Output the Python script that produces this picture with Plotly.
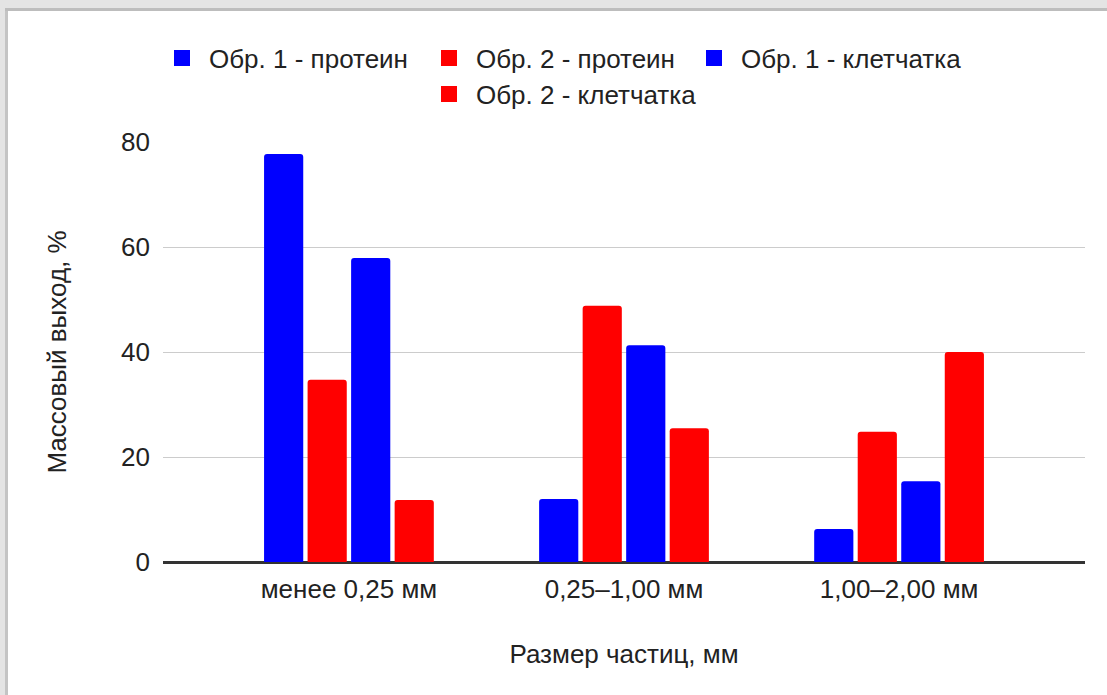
import plotly.graph_objects as go

categories = ["менее 0,25 мм", "0,25–1,00 мм", "1,00–2,00 мм"]
series_names = ["Обр. 1 - протеин", "Обр. 2 - протеин", "Обр. 1 - клетчатка", "Обр. 2 - клетчатка"]
obr1_protein = [77.7, 12.0, 6.3]
obr2_protein = [34.7, 48.8, 24.8]
obr1_fiber = [57.9, 41.3, 15.4]
obr2_fiber = [11.8, 25.5, 40.0]
series_values = [obr1_protein, obr2_protein, obr1_fiber, obr2_fiber]
series_colors = ["#0000ff", "#ff0000", "#0000ff", "#ff0000"]
y_ticks = [0, 20, 40, 60, 80]
y_title = "Массовый выход, %"
x_title = "Размер частиц, мм"

W, H = 1107, 695
ML, MR, MT, MB = 163, 22, 142, 133
PW, PH = W - ML - MR, H - MT - MB


def px(xp):
    return (xp - ML) / PW


def py(yp):
    return (H - MB - yp) / PH


FONT = "Arial, 'Liberation Sans', sans-serif"
FS = 26
TXT = "#222222"

fig = go.Figure()
legend_ids = ["legend", "legend2", "legend3", "legend4"]
for name, vals, col in zip(series_names, series_values, series_colors):
    fig.add_trace(go.Bar(
        x=categories, y=vals, name=name, marker=dict(color=col, cornerradius=3, line=dict(width=0)),
        showlegend=False, legendgroup=name,
    ))
for name, col, lg in zip(series_names, series_colors, legend_ids):
    fig.add_trace(go.Scatter(
        x=[None], y=[None], mode="markers", name=name, legendgroup=name, legend=lg,
        marker=dict(symbol="square", size=16, color=col), showlegend=True,
    ))

# legend positions (marker centers in px)
leg_pos = [(181, 58), (448, 58), (713, 58), (448, 94)]
legend_layouts = {}
for lg, (cx, cy) in zip(legend_ids, leg_pos):
    legend_layouts[lg] = dict(
        x=px(cx - 26), y=py(cy), xanchor="left", yanchor="middle",
        orientation="h", itemwidth=44, font=dict(family=FONT, size=FS, color=TXT),
        bgcolor="rgba(0,0,0,0)", borderwidth=0,
    )

shapes = [
    # shadow frame on the left and top
    dict(type="rect", xref="paper", yref="paper", x0=px(0), x1=px(8), y0=py(H), y1=py(0),
         fillcolor="#e4e4e4", line=dict(width=0), layer="below"),
    dict(type="rect", xref="paper", yref="paper", x0=px(0), x1=px(W), y0=py(11), y1=py(0),
         fillcolor="#e4e4e4", line=dict(width=0), layer="below"),
    dict(type="rect", xref="paper", yref="paper", x0=px(5), x1=px(8), y0=py(H), y1=py(9),
         fillcolor="#c4c4c4", line=dict(width=0), layer="below"),
    dict(type="rect", xref="paper", yref="paper", x0=px(5), x1=px(W), y0=py(11), y1=py(8),
         fillcolor="#bdbdbd", line=dict(width=0), layer="below"),
]

fig.update_layout(
    width=W, height=H,
    margin=dict(l=ML, r=MR, t=MT, b=MB, autoexpand=False),
    paper_bgcolor="white", plot_bgcolor="white",
    barmode="group", bargap=0.367, bargroupgap=0.1,
    font=dict(family=FONT, size=FS, color=TXT),
    shapes=shapes,
    **legend_layouts,
)
fig.update_xaxes(
    type="category", range=[-0.676, 2.676], showgrid=False,
    showline=True, linecolor="#333333", linewidth=1.5,
    ticks="", ticklabelstandoff=3,
    tickfont=dict(family=FONT, size=FS, color=TXT),
    title=dict(text=x_title, standoff=42, font=dict(family=FONT, size=FS, color=TXT)),
    automargin=False, fixedrange=True,
)
fig.update_yaxes(
    range=[0, 80], tickvals=y_ticks, ticktext=[str(v) for v in y_ticks],
    showgrid=True, gridcolor="#cccccc", gridwidth=1,
    zeroline=True, zerolinecolor="#333333", zerolinewidth=1.5,
    showline=False, ticks="", ticklabelstandoff=12,
    tickfont=dict(family=FONT, size=FS, color=TXT),
    title=dict(text=y_title, standoff=46, font=dict(family=FONT, size=FS, color=TXT)),
    automargin=False, fixedrange=True,
)

fig.write_html(
    "out.html",
    config={"displayModeBar": False},
    post_script=(
        "var st=document.createElement('style');"
        "st.textContent='html,body{margin:0;padding:0;overflow:hidden;scrollbar-width:none;}"
        "::-webkit-scrollbar{display:none;width:0;height:0;}';"
        "document.head.appendChild(st);"
        "document.documentElement.style.overflow='hidden';"
        "document.body.style.margin='0';document.body.style.overflow='hidden';"
    ),
)
